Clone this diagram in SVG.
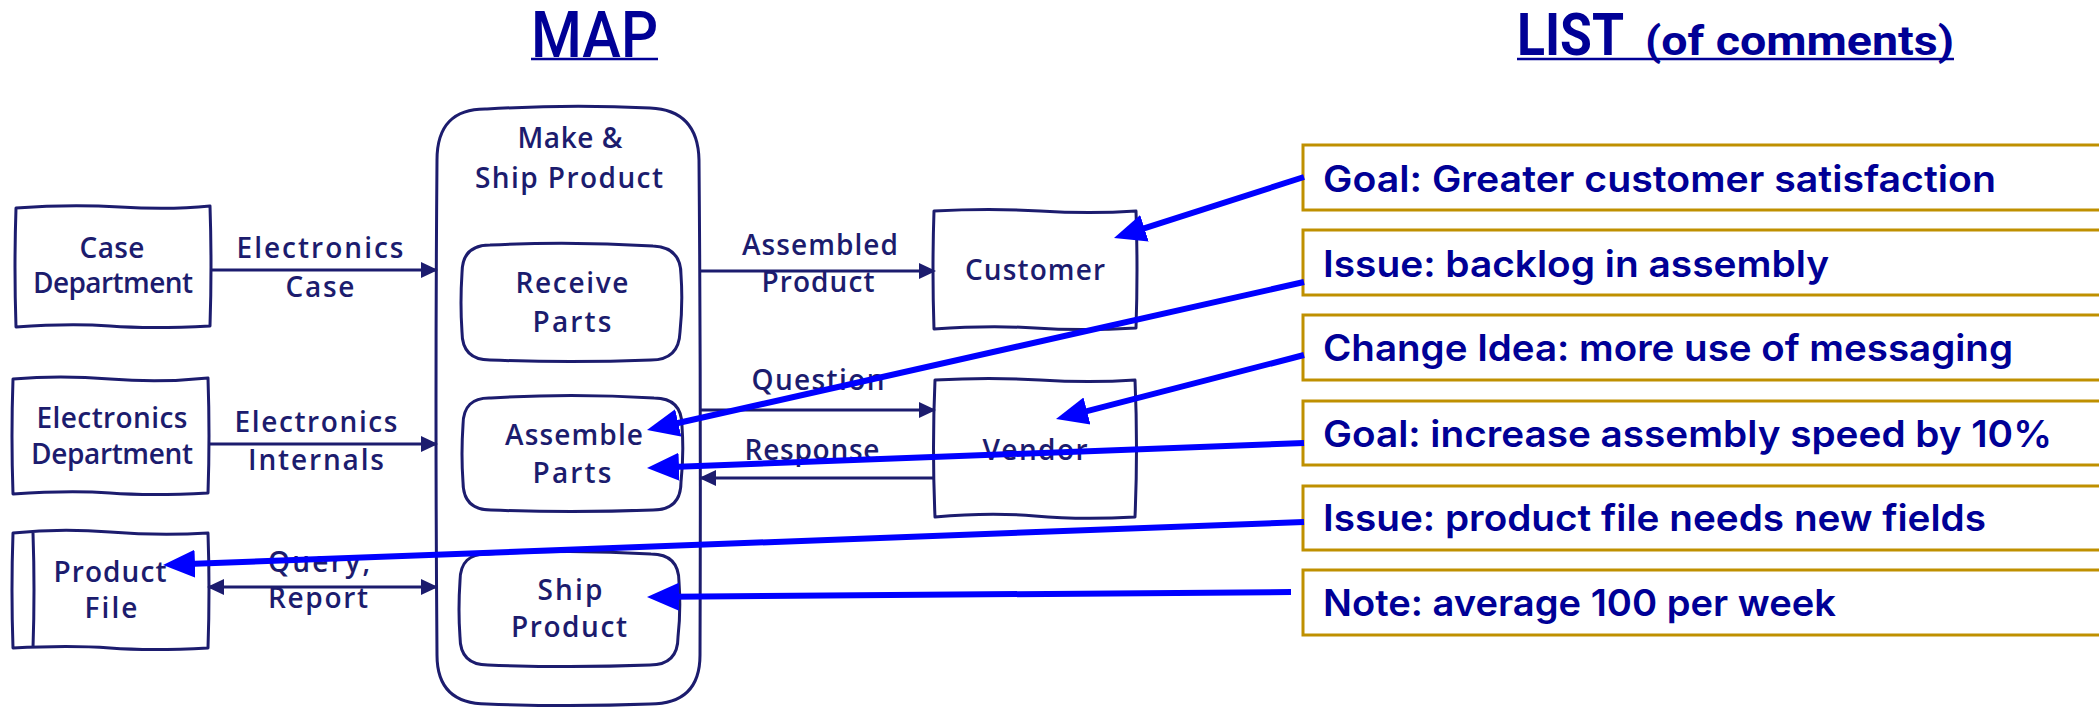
<svg xmlns="http://www.w3.org/2000/svg" width="2099" height="708" viewBox="0 0 2099 708">
  <style>
    .hand { fill: #ffffff; stroke: #1c1c6e; stroke-width: 3; stroke-linejoin: round; }
    .lbl { font-family: "Open Sans", "Noto Sans", sans-serif; font-size: 28px; font-weight: 600; fill: #1c1c6e; text-anchor: middle; }
    .flow { stroke: #1c1c6e; stroke-width: 3; fill: none; }
    .note { fill: #ffffff; stroke: #bf9000; stroke-width: 3; }
    .ntxt { font-family: Inter, "Liberation Sans", sans-serif; font-weight: 600; font-size: 37px; fill: #000096; }
    .ptr { stroke: #0000ff; stroke-width: 6; fill: none; }
    .title { font-family: Roboto, "Liberation Sans", sans-serif; fill: #000096; }
  </style>
  <defs>
    <marker id="flowHead" viewBox="0 -9 17 18" refX="15" refY="0" markerWidth="17" markerHeight="18" markerUnits="userSpaceOnUse" orient="auto-start-reverse">
      <path d="M0,-8 L17,0 L0,8 Z" fill="#1c1c6e"/>
    </marker>
    <marker id="ptrHead" viewBox="0 -15 32 30" refX="7" refY="0" markerWidth="32" markerHeight="30" markerUnits="userSpaceOnUse" orient="auto">
      <path d="M0,-14 L32,0 L0,14 Z" fill="#0000ff"/>
    </marker>
  </defs>

  <rect x="0" y="0" width="2099" height="708" fill="#ffffff"/>

  <!-- headings -->
  <g id="title-map">
    <text class="title" x="531" y="57" font-size="64" font-weight="500" textLength="127" lengthAdjust="spacingAndGlyphs">MAP</text>
    <line x1="531" y1="59" x2="658" y2="59" stroke="#000096" stroke-width="2.5"/>
  </g>
  <g id="title-list">
    <text class="title" x="1517" y="55" font-size="60" font-weight="700" textLength="107" lengthAdjust="spacingAndGlyphs">LIST</text>
    <text class="title" x="1645" y="55" font-size="40" font-weight="700" textLength="309" lengthAdjust="spacingAndGlyphs">(of comments)</text>
    <line x1="1517" y1="59" x2="1954" y2="59" stroke="#000096" stroke-width="2.5"/>
  </g>

  <!-- process container -->
  <g id="make-ship-product">
    <path class="hand" d="M487,109 Q570,104 650,108 Q698,110 699,160 Q701,400 700,655 Q700,704 650,704 Q570,707 487,704 Q437,704 437,655 Q435,400 437,160 Q437,108 487,109 Z"/>
    <text class="lbl" x="570" y="148" textLength="105">Make &amp;</text>
    <text class="lbl" x="569" y="188" textLength="188">Ship Product</text>
  </g>

  <g id="receive-parts">
    <path class="hand" d="M490,245 Q570,241 653,246 Q681,247 681,275 Q683,303 680,332 Q679,360 651,360 Q570,363 490,360 Q462,360 462,332 Q460,303 462,273 Q462,245 490,245 Z"/>
    <text class="lbl" x="572" y="293" textLength="113">Receive</text>
    <text class="lbl" x="572" y="332" textLength="79">Parts</text>
  </g>

  <g id="assemble-parts">
    <path class="hand" d="M491,398 Q570,393 654,398 Q682,398 682,426 Q684,454 681,482 Q681,510 653,510 Q570,513 491,510 Q463,510 463,482 Q461,454 463,425 Q463,397 491,398 Z"/>
    <text class="lbl" x="574" y="445" textLength="138">Assemble</text>
    <text class="lbl" x="572" y="483" textLength="79">Parts</text>
  </g>

  <g id="ship-product">
    <path class="hand" d="M488,554 Q570,549 651,554 Q679,554 679,582 Q681,610 678,637 Q678,665 650,665 Q570,668 488,665 Q460,665 460,637 Q458,610 460,581 Q460,553 488,554 Z"/>
    <text class="lbl" x="570" y="600" textLength="65">Ship</text>
    <text class="lbl" x="569" y="637" textLength="116">Product</text>
  </g>

  <!-- external entities -->
  <g id="case-department">
    <path class="hand" d="M16,208 Q70,204 120,207 T210,206 Q212,266 210,326 Q150,329 110,326 T16,327 Q14,268 16,208 Z"/>
    <text class="lbl" x="112" y="258" textLength="65">Case</text>
    <text class="lbl" x="113" y="293" textLength="160">Department</text>
  </g>

  <g id="electronics-department">
    <path class="hand" d="M13,379 Q60,375 110,379 T208,378 Q210,436 208,493 Q150,496 110,493 T13,494 Q11,436 13,379 Z"/>
    <text class="lbl" x="112" y="428" textLength="151">Electronics</text>
    <text class="lbl" x="112" y="464" textLength="162">Department</text>
  </g>

  <g id="product-file">
    <path class="hand" d="M13,533 Q60,528 110,532 T208,533 Q210,590 208,648 Q150,651 110,648 T13,648 Q11,590 13,533 Z"/>
    <path class="flow" d="M33,533 Q35,590 33,648"/>
    <text class="lbl" x="110" y="582" textLength="113">Product</text>
    <text class="lbl" x="111" y="618" textLength="53">File</text>
  </g>

  <g id="customer">
    <path class="hand" d="M934,211 Q990,208 1040,211 T1136,211 Q1138,270 1136,328 Q1080,331 1035,328 T934,329 Q932,270 934,211 Z"/>
    <text class="lbl" x="1035" y="280" textLength="140">Customer</text>
  </g>

  <g id="vendor">
    <path class="hand" d="M935,380 Q990,377 1040,380 T1135,380 Q1138,448 1135,517 Q1080,520 1035,516 T935,517 Q932,448 935,380 Z"/>
    <text class="lbl" x="1035" y="460" textLength="105">Vendor</text>
  </g>

  <!-- data flows -->
  <g id="flows">
    <line class="flow" x1="210" y1="270" x2="436" y2="270" marker-end="url(#flowHead)"/>
    <text class="lbl" x="320" y="258" textLength="167">Electronics</text>
    <text class="lbl" x="320" y="297" textLength="69">Case</text>

    <line class="flow" x1="208" y1="444" x2="436" y2="444" marker-end="url(#flowHead)"/>
    <text class="lbl" x="316" y="432" textLength="163">Electronics</text>
    <text class="lbl" x="316" y="470" textLength="136">Internals</text>

    <line class="flow" x1="209" y1="587" x2="436" y2="587" marker-start="url(#flowHead)" marker-end="url(#flowHead)"/>
    <text class="lbl" x="319" y="572" textLength="102">Query,</text>
    <text class="lbl" x="318" y="608" textLength="100">Report</text>

    <line class="flow" x1="700" y1="271" x2="934" y2="271" marker-end="url(#flowHead)"/>
    <text class="lbl" x="820" y="255" textLength="156">Assembled</text>
    <text class="lbl" x="818" y="292" textLength="113">Product</text>

    <line class="flow" x1="701" y1="410" x2="934" y2="410" marker-end="url(#flowHead)"/>
    <text class="lbl" x="818" y="390" textLength="133">Question</text>

    <line class="flow" x1="935" y1="478" x2="701" y2="478" marker-end="url(#flowHead)"/>
    <text class="lbl" x="812" y="460" textLength="135">Response</text>
  </g>

  <!-- comment list -->
  <g id="comment-goal-satisfaction">
    <rect class="note" x="1303" y="145" width="820" height="65"/>
    <text class="ntxt" x="1323" y="192" textLength="673" lengthAdjust="spacingAndGlyphs">Goal: Greater customer satisfaction</text>
  </g>
  <g id="comment-issue-backlog">
    <rect class="note" x="1303" y="230" width="820" height="65"/>
    <text class="ntxt" x="1323" y="277" textLength="506" lengthAdjust="spacingAndGlyphs">Issue: backlog in assembly</text>
  </g>
  <g id="comment-change-messaging">
    <rect class="note" x="1303" y="315" width="820" height="65"/>
    <text class="ntxt" x="1323" y="361" textLength="690" lengthAdjust="spacingAndGlyphs">Change Idea: more use of messaging</text>
  </g>
  <g id="comment-goal-speed">
    <rect class="note" x="1303" y="401" width="820" height="64"/>
    <text class="ntxt" x="1323" y="447" textLength="729" lengthAdjust="spacingAndGlyphs">Goal: increase assembly speed by 10%</text>
  </g>
  <g id="comment-issue-fields">
    <rect class="note" x="1303" y="486" width="820" height="64"/>
    <text class="ntxt" x="1323" y="531" textLength="663" lengthAdjust="spacingAndGlyphs">Issue: product file needs new fields</text>
  </g>
  <g id="comment-note-volume">
    <rect class="note" x="1303" y="570" width="820" height="65"/>
    <text class="ntxt" x="1323" y="616" textLength="513" lengthAdjust="spacingAndGlyphs">Note: average 100 per week</text>
  </g>

  <!-- comment pointers -->
  <g id="pointers">
    <line class="ptr" x1="1304" y1="177" x2="1137.8" y2="230.4" marker-end="url(#ptrHead)"/>
    <line class="ptr" x1="1304" y1="282" x2="671.4" y2="424.5" marker-end="url(#ptrHead)"/>
    <line class="ptr" x1="1304" y1="355" x2="1080.2" y2="412.8" marker-end="url(#ptrHead)"/>
    <line class="ptr" x1="1304" y1="443" x2="672" y2="467" marker-end="url(#ptrHead)"/>
    <line class="ptr" x1="1304" y1="522" x2="188" y2="564" marker-end="url(#ptrHead)"/>
    <line class="ptr" x1="1291" y1="592" x2="672" y2="596.8" marker-end="url(#ptrHead)"/>
  </g>
</svg>
